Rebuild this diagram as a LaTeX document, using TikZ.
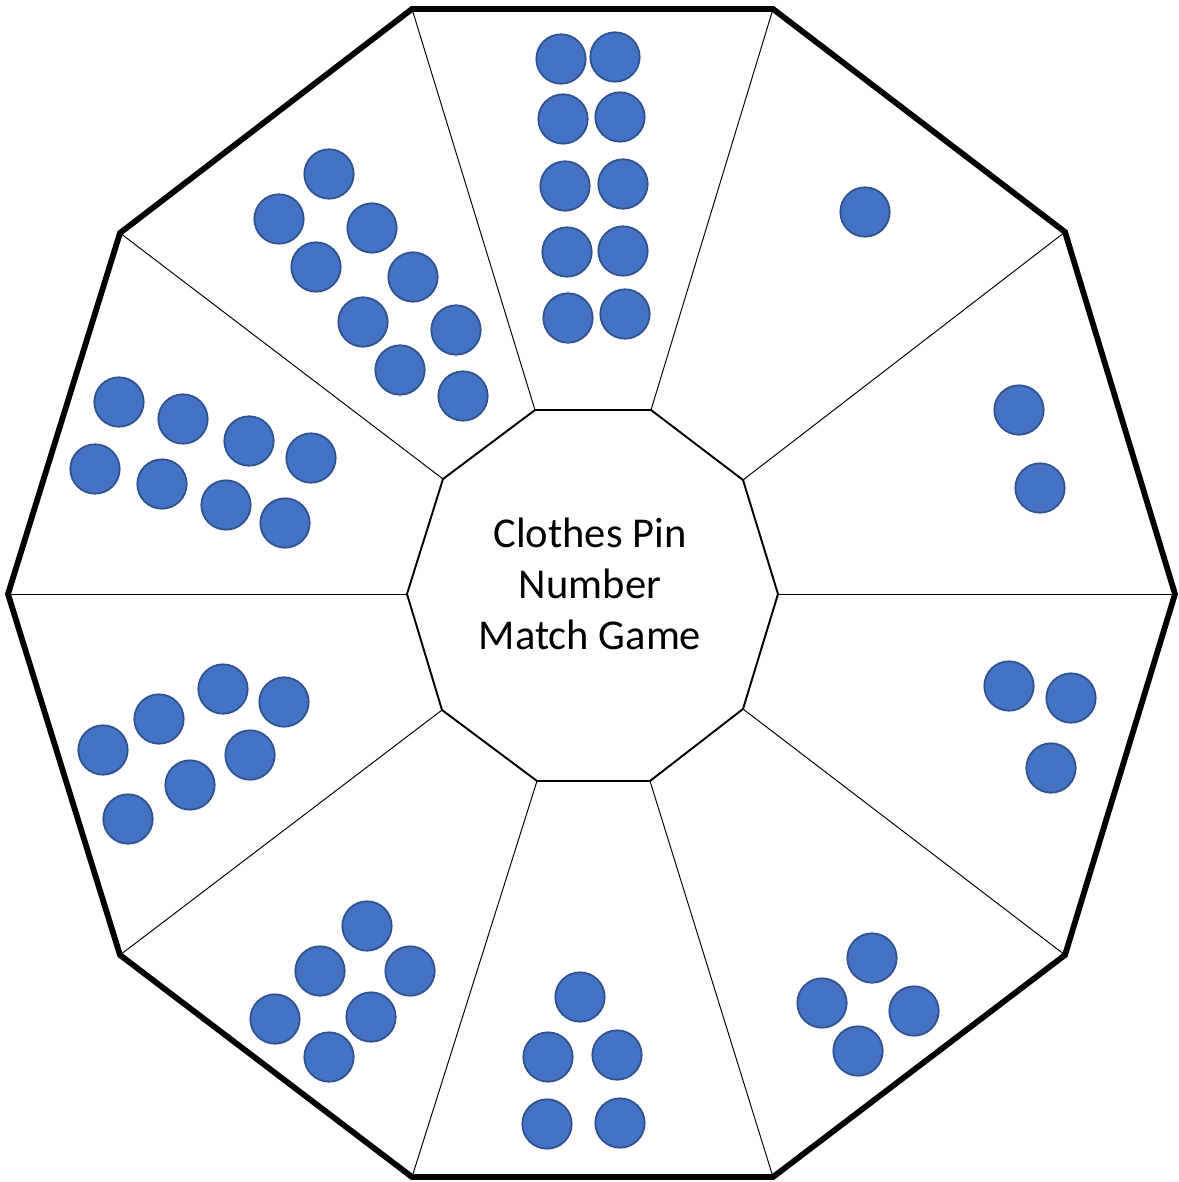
\documentclass[tikz,border=0pt]{standalone}
\usepackage{fontspec}
\newfontfamily\gamefont{Carlito}
\definecolor{pinblue}{HTML}{4472C4}
\definecolor{pinedge}{HTML}{2F528F}
\begin{document}
\begin{tikzpicture}[x=0.02cm, y=-0.02cm,
  pin/.style={fill=pinblue, draw=pinedge, line width=1pt},
  rim/.style={line width=3.3pt, line join=miter},
  hub/.style={line width=1.1pt, line join=miter},
  spoke/.style={line width=0.55pt}]
  \useasboundingbox (0,0) rectangle (1178,1182);
  % outer and inner corners
  \coordinate (o1) at (412,9);    \coordinate (o2) at (773,9);
  \coordinate (o3) at (1065,232); \coordinate (o4) at (1175,594);
  \coordinate (o5) at (1065,955); \coordinate (o6) at (773,1177);
  \coordinate (o7) at (412,1177); \coordinate (o8) at (120,955);
  \coordinate (o9) at (8,594);    \coordinate (o10) at (120,233);
  \coordinate (i1) at (535,410);  \coordinate (i2) at (651,410);
  \coordinate (i3) at (743,480);  \coordinate (i4) at (778,594);
  \coordinate (i5) at (743,709);  \coordinate (i6) at (650,781);
  \coordinate (i7) at (537,781);  \coordinate (i8) at (442,710);
  \coordinate (i9) at (407,594);  \coordinate (i10) at (443,479);
  % spokes
  \foreach \k in {1,...,10}
    \draw[spoke] (i\k) -- (o\k);
  \draw[rim] (o1) -- (o2) -- (o3) -- (o4) -- (o5) -- (o6) -- (o7) -- (o8) -- (o9) -- (o10) -- cycle;
  \draw[hub] (i1) -- (i2) -- (i3) -- (i4) -- (i5) -- (i6) -- (i7) -- (i8) -- (i9) -- (i10) -- cycle;
  \node[font=\gamefont\fontsize{24.2}{29.2}\selectfont, align=center] (title) at (590,584)
    {Clothes Pin\\Number\\Match Game};
  % the dots, sector by sector
  \foreach \p in {(561,59),(615,57),(563,119),(620,117),(565,186),(623,184),(567,252),(623,251),(568,318),(625,314)}
    \fill[pin] \p circle[radius=0.494cm];
  \foreach \p in {(865,212)}
    \fill[pin] \p circle[radius=0.494cm];
  \foreach \p in {(1019,410),(1040,488)}
    \fill[pin] \p circle[radius=0.494cm];
  \foreach \p in {(1009,686),(1071,698),(1051,768)}
    \fill[pin] \p circle[radius=0.494cm];
  \foreach \p in {(872,958),(822,1003),(914,1011),(858,1051)}
    \fill[pin] \p circle[radius=0.494cm];
  \foreach \p in {(580,997),(548,1057),(617,1055),(547,1124),(620,1123)}
    \fill[pin] \p circle[radius=0.494cm];
  \foreach \p in {(367,926),(320,971),(410,971),(275,1019),(371,1017),(329,1057)}
    \fill[pin] \p circle[radius=0.494cm];
  \foreach \p in {(223,689),(284,702),(159,719),(250,755),(103,750),(190,785),(128,819)}
    \fill[pin] \p circle[radius=0.494cm];
  \foreach \p in {(119,402),(183,419),(249,441),(311,458),(95,469),(162,484),(226,505),(285,523)}
    \fill[pin] \p circle[radius=0.494cm];
  \foreach \p in {(329,174),(279,219),(372,228),(316,267),(413,277),(363,322),(456,330),(400,370),(463,396)}
    \fill[pin] \p circle[radius=0.494cm];
\end{tikzpicture}
\end{document}
